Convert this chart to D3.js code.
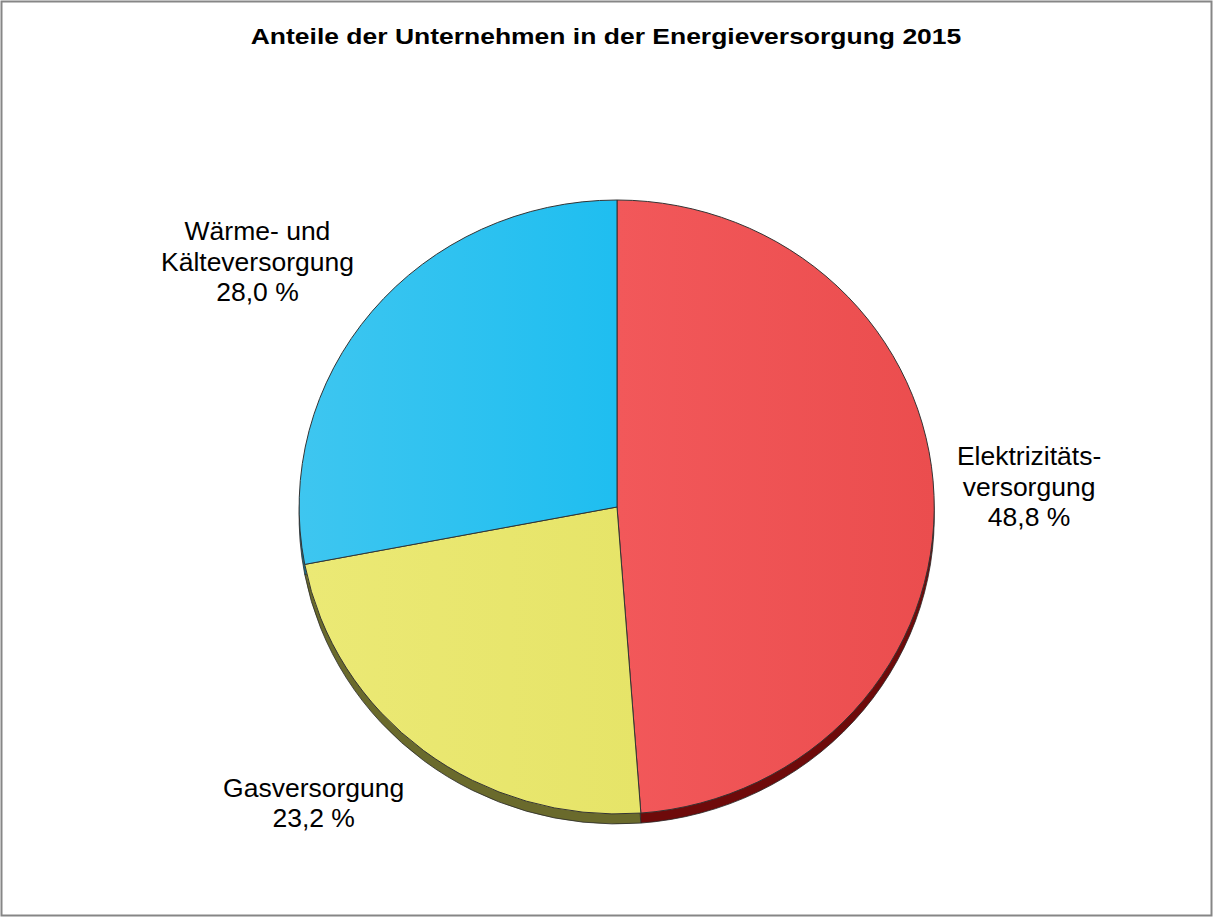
<!DOCTYPE html>
<html>
<head>
<meta charset="utf-8" />
<title>Anteile der Unternehmen in der Energieversorgung 2015</title>
<style>
body { margin: 0; background: #fff; }
#graph { width: 1213px; height: 917px; }
text { font-family: "Liberation Sans", Arial, sans-serif; fill: #000; }
</style>
</head>
<body>
<div id="graph"></div>
<script src="https://cdnjs.cloudflare.com/ajax/libs/d3/7.8.5/d3.min.js"></script>
<script>
!(function(){
    "use strict"

    // data
    var title = "Anteile der Unternehmen in der Energieversorgung 2015";
    var categories = ["Elektrizitätsversorgung", "Gasversorgung", "Wärme- und Kälteversorgung"];
    var values = [48.8, 23.2, 28.0];
    var labelLines = [
        ["Elektrizitäts-", "versorgung"],
        ["Gasversorgung"],
        ["Wärme- und", "Kälteversorgung"]
    ];
    var valueLabels = ["48,8 %", "23,2 %", "28,0 %"];

    // look
    var topColors  = [["#f2585a", "#eb4d4e"], ["#ebe975", "#e6e468"], ["#3ec6f0", "#1fbef0"]];
    var sideColors = ["#6e0a0a", "#6a6a2c", "#1a6d88"];
    var width = 1213, height = 917;
    var cx = 617, cy = 507, rx = 318, ry = 307, depth = 10;
    var labelK = 1.3;
    var labelNudge = [[-1, -5], [-52, -21], [-41, 9]];
    var lineH = 30.5;
    var titleWidth = 711;

    var svg = d3.select("#graph").append("svg")
        .attr("width", width)
        .attr("height", height);

    svg.append("rect")
        .attr("x", 1.5).attr("y", 1.5)
        .attr("width", width - 3).attr("height", height - 3)
        .attr("fill", "#fff")
        .attr("stroke", "#868686")
        .attr("stroke-width", 2);

    var defs = svg.append("defs");
    topColors.forEach(function(c, i){
        var g = defs.append("linearGradient").attr("id", "grad" + i)
            .attr("x1", "0").attr("y1", "0").attr("x2", "1").attr("y2", "0");
        g.append("stop").attr("offset", "0%").attr("stop-color", c[0]);
        g.append("stop").attr("offset", "100%").attr("stop-color", c[1]);
    });

    // title: wide bold face, stretched to the width seen in the picture
    var titleG = svg.append("g");
    var titleText = titleG.append("text")
        .attr("x", 0)
        .attr("y", 0)
        .attr("text-anchor", "middle")
        .attr("font-size", 21.5)
        .attr("font-weight", "bold")
        .text(title);
    var sx = titleWidth / titleText.node().getComputedTextLength();
    titleG.attr("transform", "translate(606,44) scale(" + sx + ",1)");

    var pie = d3.pie().sort(null).value(function(d){ return d; });
    var arcs = pie(values);
    var arc = d3.arc().innerRadius(0).outerRadius(1);

    // side (depth) of the tilted pie
    var side = svg.append("g")
        .attr("transform", "translate(" + [cx, cy + depth] + ") scale(" + [rx, ry] + ")");
    side.selectAll("path").data(arcs).enter().append("path")
        .attr("d", arc)
        .attr("fill", function(d, i){ return sideColors[i]; })
        .attr("stroke", "#2a2a2a")
        .attr("stroke-width", 0.8)
        .attr("vector-effect", "non-scaling-stroke");

    // top face
    var top = svg.append("g")
        .attr("transform", "translate(" + [cx, cy] + ") scale(" + [rx, ry] + ")");
    top.selectAll("path").data(arcs).enter().append("path")
        .attr("d", arc)
        .attr("fill", function(d, i){ return "url(#grad" + i + ")"; })
        .attr("stroke", "#333")
        .attr("stroke-width", 1)
        .attr("vector-effect", "non-scaling-stroke");

    // labels
    var labels = svg.append("g");
    arcs.forEach(function(d, i){
        var mid = (d.startAngle + d.endAngle) / 2;
        var x = cx + rx * labelK * Math.sin(mid) + labelNudge[i][0];
        var y = cy - ry * labelK * Math.cos(mid) + labelNudge[i][1];
        var lines = labelLines[i].concat([valueLabels[i]]);
        var t = labels.append("text")
            .attr("text-anchor", "middle")
            .attr("font-size", 26.5);
        lines.forEach(function(l, j){
            t.append("tspan")
                .attr("x", x)
                .attr("y", y + 9 + (j - (lines.length - 1) / 2) * lineH)
                .text(l);
        });
    });
}());
</script>
</body>
</html>
